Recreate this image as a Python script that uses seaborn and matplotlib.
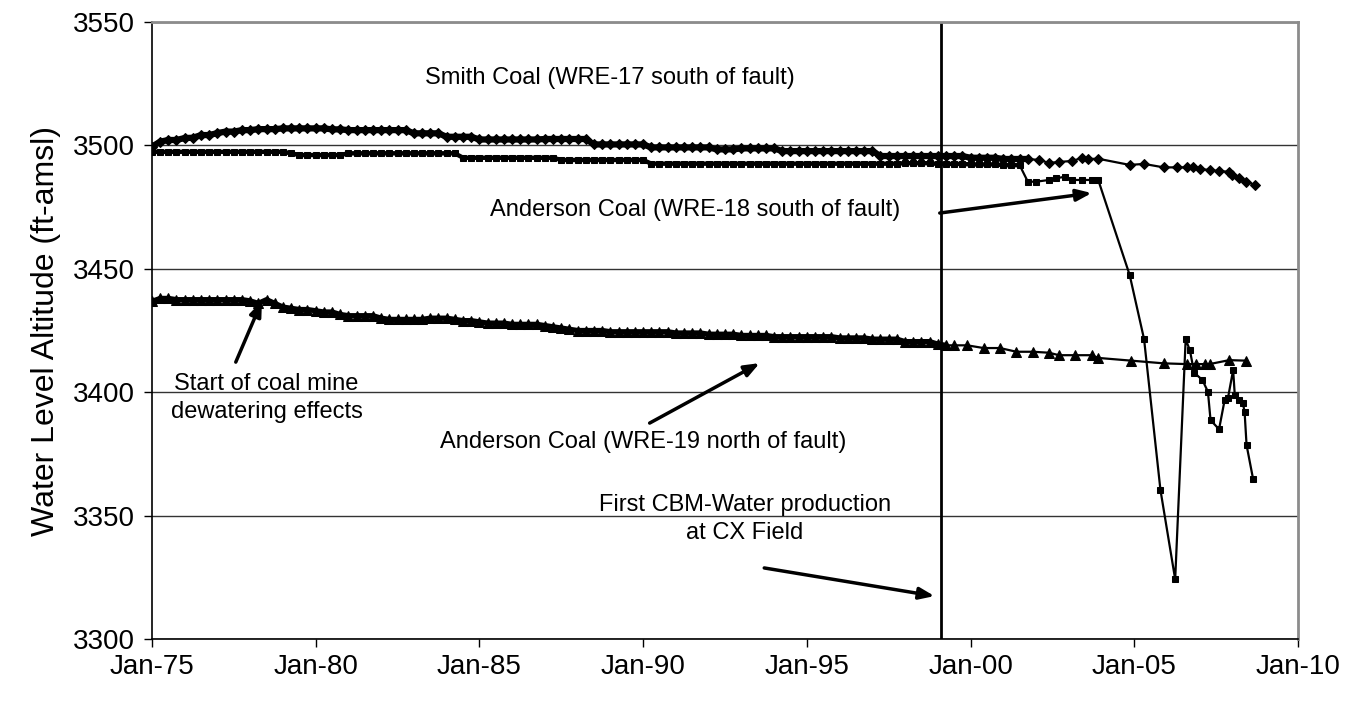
import numpy as np
import pandas as pd
import matplotlib
matplotlib.use('Agg')
import matplotlib.pyplot as plt
import seaborn as sns

# quarterly readings 1975.00 - 2001.75 (dense record)
quarters = np.arange(1975, 2002, 0.25)

wre17_dense = [
    3499.5, 3501.5, 3502.2, 3502.2,  # 1975
    3503.0, 3503.1, 3504.2, 3504.2,  # 1976
    3505.0, 3505.6, 3505.6, 3506.2,  # 1977
    3506.2, 3506.6, 3506.6, 3506.6,  # 1978
    3506.9, 3506.9, 3506.9, 3506.9,  # 1979
    3506.9, 3506.9, 3506.5, 3506.5,  # 1980
    3506.2, 3506.2, 3506.2, 3506.2,  # 1981
    3506.2, 3506.2, 3506.2, 3506.2,  # 1982
    3504.9, 3504.9, 3504.9, 3504.9,  # 1983
    3503.5, 3503.5, 3503.5, 3503.5,  # 1984
    3502.4, 3502.4, 3502.4, 3502.4,  # 1985
    3502.4, 3502.4, 3502.4, 3502.4,  # 1986
    3502.6, 3502.6, 3502.6, 3502.6,  # 1987
    3502.6, 3502.6, 3500.4, 3500.4,  # 1988
    3500.4, 3500.4, 3500.4, 3500.4,  # 1989
    3500.4, 3499.2, 3499.2, 3499.2,  # 1990
    3499.2, 3499.2, 3499.2, 3499.2,  # 1991
    3499.2, 3498.4, 3498.4, 3498.4,  # 1992
    3498.8, 3498.8, 3498.8, 3498.8,  # 1993
    3498.8, 3497.7, 3497.7, 3497.7,  # 1994
    3497.7, 3497.7, 3497.7, 3497.7,  # 1995
    3497.7, 3497.7, 3497.7, 3497.7,  # 1996
    3497.7, 3495.7, 3495.7, 3495.7,  # 1997
    3495.7, 3495.7, 3495.7, 3495.7,  # 1998
    3495.7, 3495.7, 3495.7, 3495.7,  # 1999
    3495.0, 3495.0, 3495.0, 3495.0,  # 2000
    3494.5, 3494.5, 3494.5, 3494.5,  # 2001
]
wre17_late_yr = [2002.1, 2002.4, 2002.7, 2003.1, 2003.4, 2003.6, 2003.9, 2004.86,
                 2005.3, 2005.9, 2006.3, 2006.6, 2006.8, 2007.0, 2007.3, 2007.6,
                 2007.9, 2008.0, 2008.2, 2008.4, 2008.7]
wre17_late = [3494.1, 3492.9, 3493.3, 3493.7, 3494.9, 3494.5, 3494.6, 3492.1,
              3492.5, 3491.1, 3491.1, 3491.1, 3491.1, 3490.5, 3490.0, 3489.6,
              3489.3, 3488.0, 3486.8, 3485.3, 3484.0]

wre18_dense = [
    3497.4, 3497.4, 3497.4, 3497.4,  # 1975
    3497.4, 3497.4, 3497.4, 3497.4,  # 1976
    3497.4, 3497.4, 3497.4, 3497.4,  # 1977
    3497.4, 3497.4, 3497.4, 3497.4,  # 1978
    3497.4, 3496.8, 3496.1, 3496.1,  # 1979
    3496.1, 3496.1, 3496.1, 3496.1,  # 1980
    3496.8, 3496.8, 3496.8, 3496.8,  # 1981
    3496.8, 3496.8, 3496.8, 3496.8,  # 1982
    3496.8, 3496.8, 3496.8, 3496.8,  # 1983
    3496.8, 3496.8, 3495.0, 3495.0,  # 1984
    3495.0, 3495.0, 3495.0, 3495.0,  # 1985
    3495.0, 3495.0, 3495.0, 3495.0,  # 1986
    3495.0, 3495.0, 3494.1, 3494.1,  # 1987
    3494.1, 3494.1, 3494.1, 3494.1,  # 1988
    3494.1, 3494.1, 3494.1, 3494.1,  # 1989
    3494.1, 3492.6, 3492.6, 3492.6,  # 1990
    3492.6, 3492.6, 3492.6, 3492.6,  # 1991
    3492.6, 3492.6, 3492.6, 3492.6,  # 1992
    3492.6, 3492.6, 3492.6, 3492.6,  # 1993
    3492.6, 3492.6, 3492.6, 3492.6,  # 1994
    3492.6, 3492.6, 3492.6, 3492.6,  # 1995
    3492.6, 3492.6, 3492.6, 3492.6,  # 1996
    3492.6, 3492.6, 3492.6, 3492.6,  # 1997
    3492.8, 3492.8, 3492.8, 3492.8,  # 1998
    3492.5, 3492.5, 3492.5, 3492.5,  # 1999
    3492.3, 3492.3, 3492.3, 3492.3,  # 2000
    3492.0, 3492.0, 3492.0,          # 2001
]
wre18_late_yr = [2001.75, 2002.0, 2002.4, 2002.6, 2002.9, 2003.1, 2003.4, 2003.7,
                 2003.9, 2004.86, 2005.3, 2005.8, 2006.25, 2006.57, 2006.7, 2006.83,
                 2007.08, 2007.25, 2007.33, 2007.59, 2007.76, 2007.86, 2008.02,
                 2008.07, 2008.2, 2008.32, 2008.37, 2008.43, 2008.63]
wre18_late = [3485.3, 3485.3, 3486.0, 3486.7, 3487.3, 3486.0, 3486.0, 3486.0,
              3486.0, 3447.5, 3421.5, 3360.4, 3324.2, 3421.4, 3417.0, 3407.9,
              3405.0, 3400.2, 3388.7, 3385.0, 3396.8, 3397.5, 3409.0,
              3398.9, 3396.8, 3395.5, 3392.0, 3378.6, 3364.8]

wre19_dense = [
    3436.8, 3438.0, 3438.0, 3437.5,  # 1975
    3437.5, 3437.5, 3437.5, 3437.5,  # 1976
    3437.5, 3437.5, 3437.5, 3437.5,  # 1977
    3437.0, 3436.0, 3437.5, 3436.0,  # 1978
    3434.5, 3434.0, 3433.5, 3433.5,  # 1979
    3433.0, 3432.5, 3432.5, 3431.5,  # 1980
    3431.0, 3431.0, 3431.0, 3431.0,  # 1981
    3430.0, 3429.5, 3429.5, 3429.5,  # 1982
    3429.5, 3429.5, 3430.0, 3430.0,  # 1983
    3430.0, 3429.5, 3429.0, 3429.0,  # 1984
    3428.5, 3428.0, 3428.0, 3428.0,  # 1985
    3427.5, 3427.5, 3427.5, 3427.5,  # 1986
    3427.0, 3426.5, 3426.0, 3425.5,  # 1987
    3425.0, 3425.0, 3425.0, 3425.0,  # 1988
    3424.5, 3424.5, 3424.5, 3424.5,  # 1989
    3424.5, 3424.5, 3424.5, 3424.5,  # 1990
    3424.0, 3424.0, 3424.0, 3424.0,  # 1991
    3423.5, 3423.5, 3423.5, 3423.5,  # 1992
    3423.0, 3423.0, 3423.0, 3423.0,  # 1993
    3422.5, 3422.5, 3422.5, 3422.5,  # 1994
    3422.5, 3422.5, 3422.5, 3422.5,  # 1995
    3422.0, 3422.0, 3422.0, 3422.0,  # 1996
    3421.5, 3421.5, 3421.5, 3421.5,  # 1997
    3420.5, 3420.5, 3420.5, 3420.5,  # 1998
    3419.5, 3419.0,                  # 1999
]
wre19_late_yr = [1999.5, 1999.9, 2000.4, 2000.9, 2001.4, 2001.9, 2002.4, 2002.7,
                 2003.2, 2003.7, 2003.9, 2004.9, 2005.9, 2006.6, 2006.9, 2007.15,
                 2007.3, 2007.9, 2008.4]
wre19_late = [3419.0, 3419.0, 3417.9, 3417.9, 3416.4, 3416.4, 3416.0, 3415.0,
              3415.0, 3415.0, 3413.9, 3412.8, 3411.7, 3411.4, 3411.4, 3411.4,
              3411.4, 3413.0, 3412.8]

xtick_years = [1975, 1980, 1985, 1990, 1995, 2000, 2005, 2010]
xtick_labels = ['Jan-75', 'Jan-80', 'Jan-85', 'Jan-90', 'Jan-95', 'Jan-00', 'Jan-05', 'Jan-10']
first_cbm_year = 1999.1


def series(dense, late_yr, late):
    yr = list(quarters[:len(dense)]) + list(late_yr)
    return pd.DataFrame({'year': yr, 'level': list(dense) + list(late)})


wre17 = series(wre17_dense, wre17_late_yr, wre17_late)
wre18 = series(wre18_dense, wre18_late_yr, wre18_late)
wre19 = series(wre19_dense, wre19_late_yr, wre19_late)

sns.set_style('white')
plt.rcParams['font.family'] = ['Liberation Sans', 'DejaVu Sans']
plt.rcParams['text.color'] = 'black'
plt.rcParams['axes.labelcolor'] = 'black'

fig = plt.figure(figsize=(13.47, 7.01), dpi=100)
ax = fig.add_axes([0.1128, 0.0884, 0.8508, 0.8802])

kw = dict(x='year', y='level', color='black', estimator=None, sort=False, ax=ax)
# dense monthly record reads as a solid band in the original
for df, n, band in [(wre17, len(wre17_dense), 4.5), (wre18, len(wre18_dense), 3.2),
                    (wre19, len(wre19_dense), 3.8)]:
    sns.lineplot(data=df.iloc[:n], linewidth=band, **kw)
sns.lineplot(data=wre17, marker='D', markersize=5.5, markeredgecolor='black', linewidth=1.6, **kw)
sns.lineplot(data=wre18, marker='s', markersize=4.5, markeredgecolor='black', linewidth=1.6, **kw)
sns.lineplot(data=wre19, marker='^', markersize=6.5, markeredgecolor='black', linewidth=1.6, **kw)

ax.axvline(first_cbm_year, color='black', lw=2)

ax.set_xlim(1975, 2010)
ax.set_ylim(3300, 3550)
ax.set_xticks(xtick_years)
ax.set_xticklabels(xtick_labels)
ax.set_yticks([3300, 3350, 3400, 3450, 3500, 3550])
ax.yaxis.grid(True, color='#333333', lw=1)
ax.set_axisbelow(True)
ax.tick_params(axis='both', labelsize=20, length=6, width=1, direction='out',
               bottom=True, left=True, colors='black')
ax.tick_params(axis='y', pad=6)
ax.tick_params(axis='x', pad=5)
ax.set_xlabel('')
ax.set_ylabel('Water Level Altitude (ft-amsl)', fontsize=23, labelpad=9)
for s in ['left', 'bottom']:
    ax.spines[s].set_color('black')
    ax.spines[s].set_linewidth(1.2)
for s in ['top', 'right']:
    ax.spines[s].set_color('#8c8c8c')
    ax.spines[s].set_linewidth(2)

tfont = dict(fontsize=17, ha='center', va='center', color='black')
arrow = dict(arrowstyle='-|>,head_length=0.9,head_width=0.35', color='black', lw=2.5,
             shrinkA=0, shrinkB=0)

ax.text(1989.0, 3527.3, 'Smith Coal (WRE-17 south of fault)', **tfont)
ax.text(1991.6, 3474.0, 'Anderson Coal (WRE-18 south of fault)', **tfont)
ax.annotate('', xy=(2003.7, 3480.7), xytext=(1999.06, 3472.6), arrowprops=arrow)
ax.text(1978.5, 3397.7, 'Start of coal mine\ndewatering effects', linespacing=1.35, **tfont)
ax.annotate('', xy=(1978.36, 3437.0), xytext=(1977.56, 3412.2), arrowprops=arrow)
ax.text(1990.0, 3379.8, 'Anderson Coal (WRE-19 north of fault)', **tfont)
ax.annotate('', xy=(1993.56, 3411.8), xytext=(1990.2, 3387.5), arrowprops=arrow)
ax.text(1993.1, 3348.5, 'First CBM-Water production\nat CX Field', linespacing=1.35, **tfont)
ax.annotate('', xy=(1998.9, 3317.4), xytext=(1993.7, 3328.8), arrowprops=arrow)

fig.savefig('out.png', dpi=100)
